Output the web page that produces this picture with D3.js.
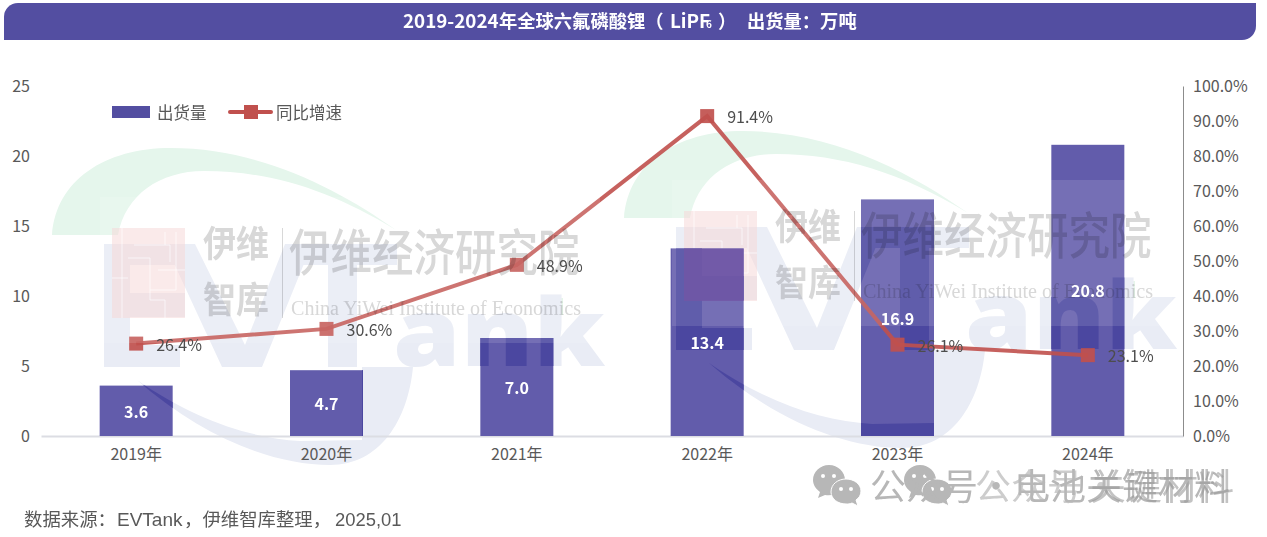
<!DOCTYPE html>
<html lang="zh-CN">
<head>
  <meta charset="UTF-8">
  <title>六氟磷酸锂出货量</title>
  <script src="https://d3js.org/d3.v7.min.js"></script>
  <style>
    body { margin:0; background:#fff; overflow:hidden; }
    svg { display:block; }
    text { font-family:"Noto Sans CJK SC","Noto Sans",sans-serif; }
    .axis text { font-size:16px; fill:#595959; }
    .wm { mix-blend-mode:multiply; }
  </style>
</head>
<body>
  <svg id="chart" width="1267" height="537"></svg>
  <script>
    // 1) Data
    const years = ["2019年","2020年","2021年","2022年","2023年","2024年"];
    const shipments = [3.6, 4.7, 7.0, 13.4, 16.9, 20.8];
    const growth = [26.4, 30.6, 48.9, 91.4, 26.1, 23.1];
    const leftTicks = [0, 5, 10, 15, 20, 25];
    const rightTicks = [0, 10, 20, 30, 40, 50, 60, 70, 80, 90, 100];

    const svg = d3.select("#chart");
    const barColor = "#625cab", legendBar = "#534ea1", lineColor = "#c0504d";

    // 2) Scales
    const plotLeft = 41, plotRight = 1183, plotTop = 86, plotBottom = 436;
    const pad = 1 - 73 / ((plotRight - plotLeft) / years.length);
    const x = d3.scaleBand().domain(years).range([plotLeft, plotRight]).paddingInner(pad).paddingOuter(pad / 2);
    const yL = d3.scaleLinear().domain([0, 25]).range([plotBottom, plotTop]);
    const yR = d3.scaleLinear().domain([0, 100]).range([plotBottom, plotTop]);
    const cx = (d) => x(d) + x.bandwidth() / 2;

    // 3) Watermark shapes (picture background, used twice)
    const defs = svg.append("defs");
    const logo = defs.append("g").attr("id", "logo");
    logo.append("path").attr("d", "M104,244H185V265H130V293H185V317H130V345H180V367H104Z");
    logo.append("path").attr("d", "M165,244H195L245,345L285,244H312L262,367H222Z");
    logo.append("path").attr("d", "M285,244H397V265H357V367H328V265H285Z");
    logo.append("path").attr("d", "M137,380C200,435 270,465 330,465C380,465 408,420 413,367L362,367L362,440L300,441C250,438 195,420 137,380Z");
    logo.append("text").attr("x", 393).attr("y", 366).attr("textLength", 212).attr("lengthAdjust", "spacingAndGlyphs")
      .style("font-family", "'Open Sans'").style("font-size", "94px").style("font-weight", 800).text("ank");

    const red = defs.append("g").attr("id", "redBox");
    red.append("rect").attr("x", 112).attr("y", 228).attr("width", 73).attr("height", 90);

    // thin light lines inside the red box
    const maze = defs.append("g").attr("id", "maze").attr("stroke", "#fff").attr("stroke-width", 1).attr("fill", "none").attr("opacity", 0.7);
    maze.append("path").attr("d", "M122,228V318M134,245H170V262M128,258H150V300H165V318M176,232V290H150M112,278H128M158,270H185M165,245V232");

    const arc = defs.append("g").attr("id", "arc");
    arc.append("path").attr("fill", "#e5f6ec")
      .attr("d", "M52,235C56,180 105,148 171,148C260,148 340,190 396,230C330,190 270,171 204,171C160,171 125,195 118,235Z");
    arc.append("rect").attr("x", 548).attr("y", 298).attr("width", 15).attr("height", 17).attr("fill", "#e3f5e8");

    const words = defs.append("g").attr("id", "words").attr("fill", "#d8d8d8");
    words.append("text").attr("transform", "translate(203,257) scale(1,1.1)").style("font-size", "33px").style("font-weight", 700).text("伊维");
    words.append("text").attr("transform", "translate(203,313) scale(1,1.1)").style("font-size", "33px").style("font-weight", 700).text("智库");
    words.append("rect").attr("x", 282).attr("y", 228).attr("width", 1).attr("height", 90);
    words.append("text").attr("transform", "translate(289,271) scale(1,1.2)").style("font-size", "41.5px").style("font-weight", 500).text("伊维经济研究院");
    words.append("text").attr("x", 291).attr("y", 315).attr("textLength", 290).attr("lengthAdjust", "spacingAndGlyphs")
      .style("font-family", "'Liberation Serif'").style("font-size", "20px").text("China YiWei Institute of Economics");

    const clip = defs.append("clipPath").attr("id", "barClip");
    clip.selectAll("rect").data(years).join("rect")
      .attr("x", (d) => x(d)).attr("width", x.bandwidth())
      .attr("y", (d, i) => yL(shipments[i])).attr("height", (d, i) => plotBottom - yL(shipments[i]));

    const copies = ["translate(0,0)", "translate(572,-17)"];

    // 4) Background layer
    copies.forEach((t) => {
      svg.append("use").attr("href", "#arc").attr("transform", t);
      svg.append("use").attr("href", "#logo").attr("transform", t).attr("fill", "#e9ecf5");
      svg.append("use").attr("href", "#redBox").attr("transform", t).attr("fill", "#f6cfcf").attr("opacity", 0.5);
      svg.append("use").attr("href", "#maze").attr("transform", t);
    });

    // 5) Axes
    const axisBottom = d3.axisBottom(x).tickSize(0).tickPadding(13);
    svg.append("g").attr("class", "axis").attr("transform", `translate(0,${plotBottom})`).call(axisBottom)
      .call((g) => g.select(".domain").attr("stroke", "#dcdde3").attr("stroke-width", 2));

    svg.append("g").attr("class", "axis").attr("transform", `translate(${plotLeft},0)`)
      .call(d3.axisLeft(yL).tickValues(leftTicks).tickSize(0).tickPadding(11))
      .call((g) => g.select(".domain").remove());

    svg.append("g").attr("class", "axis").attr("transform", `translate(${plotRight},0)`)
      .call(d3.axisRight(yR).tickValues(rightTicks).tickSize(0).tickPadding(10).tickFormat((d) => d.toFixed(1) + "%"))
      .call((g) => g.select(".domain").attr("stroke", "#8c8c8c").attr("stroke-width", 1));

    // 6) Bars
    svg.append("g").selectAll("rect").data(years).join("rect")
      .attr("x", (d) => x(d)).attr("width", x.bandwidth())
      .attr("y", (d, i) => yL(shipments[i])).attr("height", (d, i) => plotBottom - yL(shipments[i]))
      .attr("fill", barColor);

    // logo seen through the bars
    const through = svg.append("g").attr("clip-path", "url(#barClip)");
    copies.forEach((t) => {
      through.append("use").attr("href", "#logo").attr("transform", t).attr("fill", "#4b47a0");
      through.append("use").attr("href", "#redBox").attr("transform", t).attr("fill", "#5f3f98").attr("opacity", 0.8);
    });

    // 7) Line
    const line = d3.line().x((d, i) => cx(years[i])).y((d) => yR(d));
    svg.append("path").datum(growth).attr("d", line)
      .attr("fill", "none").attr("stroke", lineColor).attr("stroke-width", 4).attr("opacity", 0.9);
    svg.append("g").selectAll("rect").data(growth).join("rect")
      .attr("x", (d, i) => cx(years[i]) - 7).attr("y", (d) => yR(d) - 7)
      .attr("width", 14).attr("height", 14).attr("fill", lineColor).attr("opacity", 0.92);

    // 8) White haze and words of the watermark, on top of the marks
    copies.forEach((t) => {
      svg.append("rect").attr("x", 100).attr("y", 197).attr("width", 500).attr("height", 146)
        .attr("transform", t).attr("fill", "#fff").attr("opacity", 0.12);
      svg.append("use").attr("class", "wm").attr("href", "#words").attr("transform", t);
    });

    // 9) Labels
    svg.append("g").selectAll("text").data(shipments).join("text")
      .attr("x", (d, i) => cx(years[i])).attr("y", (d) => yL(d / 2))
      .attr("text-anchor", "middle").attr("dominant-baseline", "central")
      .attr("fill", "#fff").style("font-size", "16px").style("font-weight", 700)
      .text((d) => d.toFixed(1));

    svg.append("g").selectAll("text").data(growth).join("text")
      .attr("x", (d, i) => cx(years[i]) + 20).attr("y", (d) => yR(d))
      .attr("dominant-baseline", "central")
      .attr("fill", "#4d4d4d").style("font-size", "16px")
      .text((d) => d.toFixed(1) + "%");

    // 10) Title band
    svg.append("path").attr("fill", legendBar)
      .attr("d", "M4,40V17A14,14 0 0 1 18,3H1256V26A14,14 0 0 1 1242,40Z");
    const title = svg.append("text").attr("y", 27.5).attr("fill", "#fff");
    title.append("tspan").attr("x", 403).style("font-size", "18.8px").style("font-weight", 700).text("2019-2024");
    title.append("tspan").attr("x", 499).style("font-size", "18.3px").style("font-weight", 600).text("年全球六氟磷酸锂（");
    title.append("tspan").attr("x", 670).style("font-size", "18.8px").style("font-weight", 700).text("LiPF");
    title.append("tspan").attr("x", 706).style("font-size", "10px").style("font-weight", 700).text("6");
    title.append("tspan").attr("x", 718).style("font-size", "18.3px").style("font-weight", 600).text("）");
    title.append("tspan").attr("x", 747).style("font-size", "18.3px").style("font-weight", 600).text("出货量：万吨");

    // 11) Legend
    svg.append("rect").attr("x", 112).attr("y", 106).attr("width", 38).attr("height", 12).attr("fill", legendBar);
    svg.append("text").attr("x", 157).attr("y", 112).attr("dominant-baseline", "central")
      .attr("fill", "#595959").style("font-size", "16.5px").text("出货量");
    svg.append("line").attr("x1", 230).attr("x2", 271).attr("y1", 112).attr("y2", 112)
      .attr("stroke", lineColor).attr("stroke-width", 4).attr("stroke-linecap", "round");
    svg.append("rect").attr("x", 244).attr("y", 105).attr("width", 14).attr("height", 14).attr("fill", lineColor);
    svg.append("text").attr("x", 276).attr("y", 112).attr("dominant-baseline", "central")
      .attr("fill", "#595959").style("font-size", "16.5px").text("同比增速");

    // 12) Source line
    const source = svg.append("text").attr("y", 526).attr("fill", "#595959").style("font-size", "18.4px");
    source.append("tspan").attr("x", 24).text("数据来源：");
    source.append("tspan").attr("x", 117).style("font-family", "'Liberation Sans'").style("font-size", "19px").text("EVTank");
    source.append("tspan").attr("x", 184).text("，伊维智库整理，");
    source.append("tspan").attr("x", 335).style("font-family", "'Liberation Sans'").text("2025,01");

    // 13) WeChat mark at the bottom right
    const mark = svg.append("g").attr("opacity", 0.85);
    [0, 91].forEach((dx) => {
      const g = mark.append("g").attr("transform", `translate(${dx},0)`);
      g.append("path").attr("fill", "#ababab").attr("d", "M829,465C820,465 813,472 813,480C813,485 816,489 820,492L818,498L825,495C835,497 845,490 845,480C845,472 838,465 829,465Z");
      g.append("path").attr("fill", "#ababab").attr("stroke", "#fff").attr("stroke-width", 1).attr("d", "M846,479C838,479 831,484 831,492C831,499 838,504 846,504C848,504 850,504 852,503L858,506L856,500C859,498 861,495 861,491C861,484 854,479 846,479Z");
      [[823, 476], [834, 476], [841, 489], [851, 489]].forEach(([a, b]) => {
        g.append("circle").attr("cx", a).attr("cy", b).attr("r", 2).attr("fill", "#fff");
      });
    });
    mark.append("text").attr("x", 870).attr("y", 500).attr("fill", "#ababab").style("font-size", "36px").text("公众号·电池关键材料");
    mark.append("text").attr("x", 975).attr("y", 500).attr("fill", "#ababab").attr("opacity", 0.7).style("font-size", "36px").text("公众号·");
    mark.append("text").attr("x", 1090).attr("y", 500).attr("fill", "#8a8a8a").attr("opacity", 0.6).style("font-size", "36px").text("关键材料");
  </script>
</body>
</html>
